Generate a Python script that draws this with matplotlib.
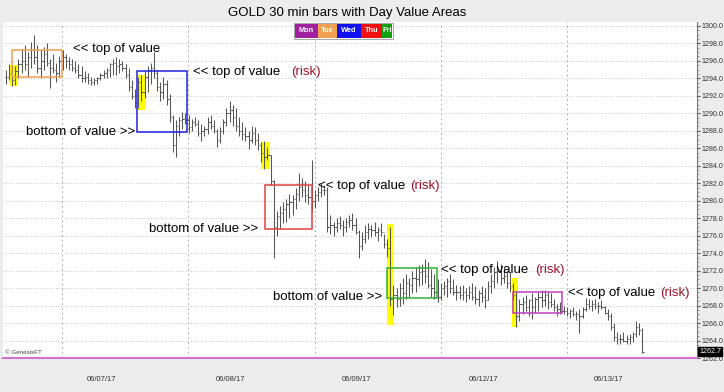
import matplotlib
matplotlib.use('Agg')
import matplotlib.pyplot as plt
from matplotlib.patches import Rectangle
import numpy as np

plt.rcParams['font.family'] = ['Liberation Sans', 'DejaVu Sans']

# 30 min bars (high, low, close)
highs = [
    1295.0, 1295.6, 1295.5, 1295.4, 1296.2, 1297.4, 1297.8, 1297.0, 1298.2, 1298.9,
    1297.8, 1297.2, 1297.6, 1298.0, 1296.2, 1296.8, 1295.8, 1296.6, 1297.2, 1296.8,
    1296.4, 1296.2, 1296.0, 1295.6, 1295.4, 1294.8, 1294.6, 1294.2, 1294.0, 1294.2,
    1294.6, 1295.0, 1295.2, 1295.8, 1296.2, 1296.4, 1296.2, 1296.0, 1295.6, 1295.2,
    1293.8, 1292.8, 1294.2, 1294.4, 1294.8, 1295.4, 1295.8, 1297.0, 1295.0, 1293.6,
    1294.2, 1293.8, 1292.2, 1289.8, 1289.2, 1289.6, 1290.2, 1290.0, 1289.8, 1289.4,
    1289.6, 1289.2, 1288.8, 1288.6, 1289.6, 1289.8, 1289.2, 1288.2, 1288.4, 1289.4,
    1290.6, 1291.4, 1291.0, 1290.6, 1289.6, 1289.0, 1288.4, 1288.0, 1288.6, 1288.4,
    1287.8, 1286.7, 1286.8, 1286.2, 1285.2, 1282.4, 1278.8, 1279.4, 1279.8, 1280.2,
    1280.8, 1280.6, 1281.4, 1283.2, 1282.6, 1282.2, 1281.8, 1284.6, 1281.2, 1281.6,
    1282.0, 1281.8, 1281.6, 1278.4, 1277.6, 1278.0, 1278.2, 1277.8, 1278.0, 1278.4,
    1278.6, 1278.0, 1276.6, 1276.4, 1277.2, 1277.4, 1277.2, 1277.6, 1277.0, 1277.4,
    1276.2, 1275.6, 1277.0, 1270.4, 1270.0, 1270.6, 1271.2, 1271.6, 1271.2, 1272.0,
    1272.4, 1272.6, 1272.8, 1273.3, 1273.0, 1272.2, 1271.6, 1271.0, 1270.6, 1270.8,
    1271.2, 1271.6, 1271.0, 1270.4, 1270.2, 1270.4, 1270.0, 1270.2, 1270.6, 1270.2,
    1269.8, 1270.2, 1270.0, 1270.8, 1271.6, 1272.4, 1273.1, 1272.8, 1272.4, 1272.0,
    1271.8, 1270.6, 1269.6, 1268.8, 1269.0, 1269.2, 1268.8, 1269.4, 1269.0, 1269.6,
    1269.8, 1269.8, 1269.6, 1269.4, 1268.8, 1268.2, 1268.4, 1268.0, 1267.8, 1267.6,
    1267.8, 1267.4, 1267.6, 1267.8, 1268.9, 1268.8, 1268.6, 1268.8, 1268.4, 1268.6,
    1268.0, 1267.6, 1267.2, 1266.0, 1265.0, 1264.8, 1265.0, 1264.6, 1264.8, 1265.0,
    1266.2, 1266.0, 1265.4]
lows = [
    1293.4, 1293.8, 1293.1, 1293.2, 1294.0, 1294.6, 1295.0, 1294.2, 1295.2, 1295.6,
    1294.6, 1294.0, 1295.0, 1295.4, 1292.9, 1294.6, 1293.6, 1294.2, 1295.0, 1295.2,
    1295.0, 1294.8, 1294.6, 1294.0, 1293.6, 1293.6, 1293.4, 1293.2, 1293.2, 1293.4,
    1293.8, 1294.0, 1294.0, 1294.2, 1294.4, 1294.4, 1294.6, 1294.8, 1294.0, 1292.6,
    1291.6, 1290.6, 1290.6, 1291.4, 1291.8, 1292.4, 1293.4, 1294.0, 1292.6, 1291.4,
    1291.6, 1291.0, 1289.0, 1285.6, 1285.0, 1287.4, 1288.2, 1288.8, 1287.8, 1288.0,
    1288.6, 1287.4, 1286.8, 1287.4, 1287.6, 1288.2, 1287.8, 1286.1, 1286.6, 1287.6,
    1288.6, 1289.0, 1288.6, 1288.0, 1287.4, 1287.0, 1286.8, 1285.9, 1286.6, 1286.4,
    1285.8, 1284.4, 1283.6, 1284.6, 1281.8, 1273.4, 1276.0, 1276.8, 1277.4, 1277.6,
    1278.0, 1278.4, 1279.0, 1280.0, 1280.4, 1279.8, 1279.6, 1278.8, 1279.2, 1280.0,
    1280.4, 1280.6, 1276.4, 1276.2, 1276.0, 1276.4, 1276.8, 1276.0, 1276.4, 1277.0,
    1276.6, 1276.2, 1273.4, 1274.4, 1275.2, 1275.6, 1275.8, 1276.0, 1275.4, 1276.0,
    1274.6, 1273.6, 1268.0, 1266.9, 1267.8, 1268.0, 1268.2, 1268.8, 1269.0, 1269.4,
    1269.6, 1270.2, 1270.4, 1270.6, 1270.0, 1269.0, 1268.8, 1268.4, 1268.6, 1269.2,
    1269.0, 1269.4, 1269.2, 1268.6, 1268.8, 1268.6, 1268.4, 1268.8, 1268.6, 1268.2,
    1268.0, 1268.4, 1267.7, 1268.6, 1269.4, 1270.0, 1270.6, 1270.4, 1270.6, 1270.0,
    1269.6, 1268.6, 1265.5, 1266.2, 1267.0, 1267.4, 1266.8, 1266.5, 1267.2, 1267.4,
    1267.8, 1268.0, 1267.6, 1267.8, 1267.4, 1266.8, 1267.0, 1267.0, 1266.8, 1266.6,
    1266.8, 1266.4, 1264.9, 1266.6, 1267.4, 1267.6, 1267.4, 1267.6, 1267.2, 1267.6,
    1267.0, 1266.4, 1265.2, 1264.0, 1263.6, 1263.6, 1263.8, 1263.6, 1263.6, 1263.8,
    1264.4, 1264.6, 1262.6]
closes = [
    1294.2, 1294.6, 1293.8, 1294.8, 1295.6, 1296.0, 1295.6, 1296.4, 1297.2, 1296.4,
    1295.2, 1296.0, 1296.8, 1295.8, 1295.2, 1295.0, 1294.6, 1296.0, 1296.4, 1296.0,
    1295.6, 1295.2, 1295.0, 1294.4, 1294.0, 1294.2, 1293.8, 1293.6, 1293.8, 1294.0,
    1294.4, 1294.6, 1295.0, 1295.6, 1295.8, 1295.4, 1295.6, 1295.2, 1294.4, 1293.0,
    1292.0, 1291.2, 1293.6, 1292.4, 1294.2, 1294.8, 1295.2, 1294.6, 1293.0, 1292.4,
    1293.4, 1291.6, 1289.6, 1286.4, 1288.6, 1289.2, 1289.4, 1289.2, 1288.4, 1289.0,
    1288.8, 1287.8, 1288.0, 1288.2, 1289.0, 1288.6, 1288.0, 1287.0, 1288.0, 1289.0,
    1290.0, 1290.4, 1289.6, 1288.6, 1288.0, 1287.6, 1287.4, 1287.0, 1287.8, 1287.0,
    1286.4, 1285.4, 1285.0, 1285.2, 1282.2, 1277.0, 1278.2, 1278.6, 1279.0, 1279.6,
    1279.8, 1280.2, 1280.8, 1281.6, 1281.2, 1280.6, 1280.4, 1280.0, 1280.6, 1281.0,
    1281.2, 1281.2, 1277.0, 1277.2, 1277.0, 1277.4, 1277.2, 1277.0, 1277.6, 1277.8,
    1277.2, 1276.4, 1274.8, 1275.6, 1276.4, 1276.8, 1276.6, 1276.4, 1276.6, 1276.4,
    1275.0, 1274.6, 1268.8, 1269.2, 1268.8, 1270.0, 1269.4, 1270.6, 1270.4, 1271.2,
    1271.0, 1271.8, 1272.0, 1271.4, 1270.4, 1270.0, 1269.6, 1269.0, 1270.0, 1270.2,
    1270.8, 1270.0, 1269.6, 1269.6, 1269.2, 1269.6, 1269.2, 1269.6, 1269.0, 1268.8,
    1269.4, 1269.0, 1268.6, 1270.2, 1270.8, 1271.8, 1272.0, 1271.2, 1271.4, 1270.6,
    1270.2, 1269.2, 1266.8, 1268.2, 1268.4, 1267.8, 1268.6, 1267.8, 1268.8, 1269.0,
    1268.6, 1269.2, 1268.4, 1268.2, 1267.8, 1267.6, 1267.4, 1267.4, 1267.2, 1267.4,
    1267.0, 1267.0, 1266.8, 1267.6, 1268.2, 1268.0, 1268.2, 1268.0, 1268.0, 1267.8,
    1267.2, 1266.8, 1265.6, 1264.4, 1264.2, 1264.2, 1264.0, 1264.2, 1264.4, 1264.8,
    1265.6, 1265.2, 1262.7]

# value areas: start bar, end bar, low, high, colour
value_areas = [
    (1.9, 17.8, 1294.2, 1297.2, '#f0a050'),
    (41.6, 57.5, 1287.9, 1294.8, '#2020e0'),
    (82.2, 97.1, 1276.8, 1281.8, '#e04040'),
    (121.0, 136.8, 1268.9, 1272.3, '#30b030'),
    (161.0, 176.5, 1267.2, 1269.5, '#c040c0'),
]
# yellow session-open highlights: start bar, end bar, low, high
opens_hl = [
    (1.3, 3.8, 1293.1, 1295.5),
    (41.9, 44.1, 1290.4, 1294.4),
    (80.9, 83.8, 1283.6, 1286.7),
    (121.0, 122.9, 1265.8, 1277.3),
    (160.6, 162.5, 1265.5, 1271.1),
]
day_lines = [17.8, 57.8, 98.1, 138.1, 178.1]
date_pos = [30.5, 71.4, 111.4, 151.7, 191.4]
date_labels = ['06/07/17', '06/08/17', '06/09/17', '06/12/17', '06/13/17']

days = ['Mon', 'Tue', 'Wed', 'Thu', 'Fri']
day_colors = ['#a020a0', '#f0a050', '#1010f0', '#f01010', '#10a010']

fig = plt.figure(figsize=(7.24, 3.92), dpi=100, facecolor='#ececec')
ax = fig.add_axes([0.004, 0.0867, 0.959, 0.8573])
ax.set_facecolor('white')

x = np.arange(len(highs))
opens = [closes[0]] + closes[:-1]

for y in np.arange(1262, 1301, 2):
    ax.axhline(y, color='#b8b8b8', lw=0.6, ls=(0, (1, 2)), zorder=0)
for d in day_lines:
    ax.axvline(d, color='#b0b0b0', lw=0.7, ls=(0, (2, 3)), zorder=0)

for s, e, lo, hi in opens_hl:
    ax.add_patch(Rectangle((s, lo), e - s, hi - lo, color='#ffff00', lw=0, zorder=1))

bar_c = '#555555'
ax.vlines(x, lows, highs, color=bar_c, lw=0.75, zorder=2)
ax.hlines(opens, x - 0.4, x, color=bar_c, lw=0.75, zorder=2)
ax.hlines(closes, x, x + 0.4, color=bar_c, lw=0.75, zorder=2)

for s, e, lo, hi, c in value_areas:
    ax.add_patch(Rectangle((s, lo), e - s, hi - lo, fill=False, ec=c, lw=1.1, zorder=3))

fs = 9.5
risk = '#a0102a'
ax.text(21.3, 1297.3, '<< top of value', fontsize=fs, va='center')
ax.text(59.4, 1294.7, '<< top of value', fontsize=fs, va='center')
ax.text(90.5, 1294.7, '(risk)', fontsize=fs, va='center', color=risk)
ax.text(41.0, 1287.9, 'bottom of value >>', fontsize=fs, va='center', ha='right')
ax.text(80.0, 1276.8, 'bottom of value >>', fontsize=fs, va='center', ha='right')
ax.text(119.4, 1269.0, 'bottom of value >>', fontsize=fs, va='center', ha='right')
ax.text(99.0, 1281.7, '<< top of value', fontsize=fs, va='center')
ax.text(128.3, 1281.7, '(risk)', fontsize=fs, va='center', color=risk)
ax.text(138.1, 1272.1, '<< top of value', fontsize=fs, va='center')
ax.text(167.9, 1272.1, '(risk)', fontsize=fs, va='center', color=risk)
ax.text(178.4, 1269.4, '<< top of value', fontsize=fs, va='center')
ax.text(207.6, 1269.4, '(risk)', fontsize=fs, va='center', color=risk)

ax.text(0.003, 0.012, '\u00a9 GenesisFT', transform=ax.transAxes, fontsize=4.5, color='#444444')

ax.set_xlim(-0.95, 219.4)
ax.set_ylim(1262.5, 1300.45)
ax.set_xticks(date_pos)
ax.set_xticklabels(date_labels)
ax.yaxis.tick_right()
ax.set_yticks(np.arange(1262, 1301, 2))
ax.set_yticklabels(['%.1f' % v for v in np.arange(1262, 1301, 2)])
ax.set_yticks(np.arange(1262.5, 1300.5, 0.5), minor=True)
ax.tick_params(axis='x', length=0, pad=13, labelsize=5.5, colors='#333333')
ax.tick_params(axis='y', which='major', length=2, pad=0.8, labelsize=5.1, colors='#555555', labelcolor='#333333')
ax.tick_params(axis='y', which='minor', length=1.2, colors='#888888')

for side in ['top', 'left']:
    ax.spines[side].set_visible(False)
ax.spines['right'].set_color('#777777')
ax.spines['bottom'].set_color('#d070d0')
ax.spines['bottom'].set_linewidth(1.5)

ax.annotate('1262.7', xy=(1.0, 1262.7), xycoords=('axes fraction', 'data'),
            xytext=(1.5, 0), textcoords='offset points', fontsize=5.1, color='white',
            va='center', ha='left',
            bbox=dict(boxstyle='square,pad=0.15', fc='black', ec='black'))

fig.text(0.479, 0.968, 'GOLD 30 min bars with Day Value Areas', fontsize=9.5,
         ha='center', va='center')

# day legend
W, H = 724.0, 392.0
edges = [295, 318, 337, 361, 382, 392]
for k in range(5):
    x0, x1 = edges[k], edges[k + 1]
    fig.add_artist(Rectangle((x0 / W, 1 - 38 / H), (x1 - x0) / W, 14 / H,
                             transform=fig.transFigure, fc=day_colors[k], ec='none', zorder=5))
    fig.text((x0 + x1) / 2 / W, 1 - 31 / H, days[k], fontsize=5.3, color='white',
             weight='bold', ha='center', va='center', zorder=6)
fig.add_artist(Rectangle((294 / W, 1 - 39 / H), 99 / W, 16 / H, transform=fig.transFigure,
                         fill=False, ec='#999999', lw=0.6, zorder=6))

fig.savefig('out.png', dpi=100, facecolor=fig.get_facecolor())
